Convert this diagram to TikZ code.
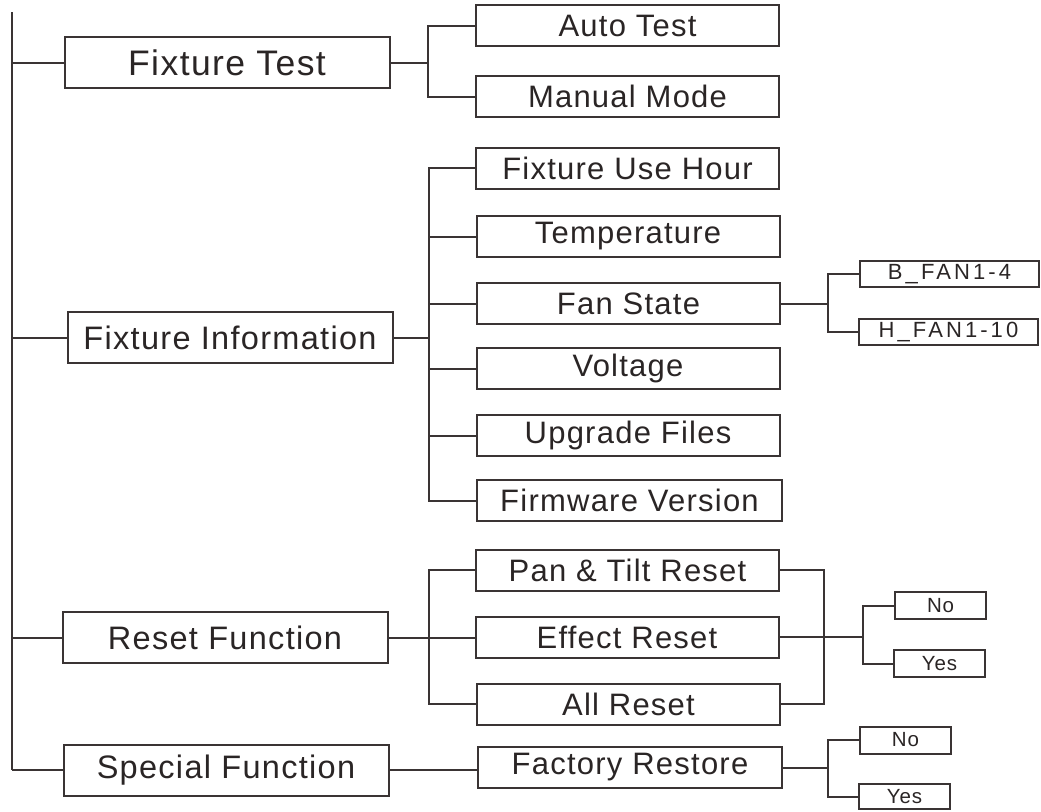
\documentclass[tikz,border=0pt]{standalone}
\usepackage{fontspec}
\setmainfont{Liberation Sans}[LetterSpace=4]
\newfontfamily\fanfont{Liberation Sans}[LetterSpace=14]
\definecolor{ln}{RGB}{58,52,52}
\definecolor{tx}{RGB}{42,37,37}
\begin{document}
\begin{tikzpicture}[x=1pt,y=-1pt,
  conn/.style={line width=2pt,draw=ln},
  box/.style={draw=ln,line width=2pt,inner sep=0pt,text=tx,anchor=center},
  lvlone/.style={box,minimum width=325pt,minimum height=51pt,font=\fontsize{32.5}{36}\selectfont},
  lvltwo/.style={box,minimum width=303pt,minimum height=41pt,font=\fontsize{31}{34}\selectfont},
  fanbox/.style={box,minimum width=179pt,minimum height=26pt,font=\fanfont\fontsize{22}{24}\selectfont},
  ynbox/.style={box,minimum width=91pt,minimum height=27pt,font=\fontsize{20.5}{22}\selectfont}]
\useasboundingbox (0,0) rectangle (1041,811);
% level 1
\node[lvlone,font=\fontsize{35.5}{38}\selectfont] (ft) at (227,62.5) {Fixture Test};
\node[lvlone] (fi) at (230,337.5) {Fixture Information};
\node[lvlone] (rf) at (225,637.5) {Reset Function};
\node[lvlone] (sf) at (226,770) {Special Function};
% level 2
\node[lvltwo] (at) at (627.5,25.5) {Auto Test};
\node[lvltwo] (mm) at (627.5,96.5) {Manual Mode};
\node[lvltwo] (fuh) at (627.5,168) {Fixture Use Hour};
\node[lvltwo] (tmp) at (628,236.5) {Temperature};
\node[lvltwo] (fs) at (628.5,303.5) {Fan State};
\node[lvltwo] (vol) at (628,368.5) {Voltage};
\node[lvltwo] (uf) at (628,435.5) {Upgrade Files};
\node[lvltwo,minimum width=305pt] (fv) at (629.5,500.5) {Firmware Version};
\node[lvltwo] (pt) at (627.5,570) {Pan \& Tilt Reset};
\node[lvltwo] (er) at (627,637) {Effect Reset};
\node[lvltwo] (ar) at (628.5,704) {All Reset};
\node[lvltwo,minimum width=304pt] (fr) at (630,767.5) {Factory Restore};
% level 3
\node[fanbox] (bf) at (949.5,274) {B\_FAN1-4};
\node[fanbox] (hf) at (948.5,332) {H\_FAN1-10};
\node[ynbox] (no1) at (940.5,605.5) {No};
\node[ynbox] (yes1) at (939.5,663.5) {Yes};
\node[ynbox] (no2) at (905.5,740) {No};
\node[ynbox,minimum height=25pt] (yes2) at (904.5,796.5) {Yes};
% buses
\coordinate (top) at (12,12);
\coordinate (ba) at (428,0);
\coordinate (bb) at (429,0);
\coordinate (bc) at (828,0);
\coordinate (bd) at (824,0);
\coordinate (be) at (863,0);
% main trunk
\draw[conn] (top) -- (top |- sf.west);
\foreach \n in {ft,fi,rf,sf} \draw[conn] (\n.west) -- (\n.west -| top);
% fixture test
\draw[conn] (ft.east) -- (ft.east -| ba);
\draw[conn] (at.west) -- (at.west -| ba) -- (mm.west -| ba) -- (mm.west);
% fixture information
\draw[conn] (fi.east) -- (fi.east -| bb);
\draw[conn] (fuh.west) -- (fuh.west -| bb) -- (fv.west -| bb) -- (fv.west);
\foreach \n in {tmp,fs,vol,uf} \draw[conn] (\n.west) -- (\n.west -| bb);
% fan state
\draw[conn] (fs.east) -- (fs.east -| bc);
\draw[conn] (bf.west) -- (bf.west -| bc) -- (hf.west -| bc) -- (hf.west);
% reset function
\draw[conn] (rf.east) -- (rf.east -| er.west);
\draw[conn] (pt.west) -- (pt.west -| bb) -- (ar.west -| bb) -- (ar.west);
\draw[conn] (pt.east) -- (pt.east -| bd) -- (ar.east -| bd) -- (ar.east);
\draw[conn] (er.east) -- (er.east -| be);
\draw[conn] (no1.west) -- (no1.west -| be) -- (yes1.west -| be) -- (yes1.west);
% special function
\draw[conn] (sf.east) -- (sf.east -| fr.west);
\draw[conn] (fr.east) -- (fr.east -| bc);
\draw[conn] (no2.west) -- (no2.west -| bc) -- (yes2.west -| bc) -- (yes2.west);
\end{tikzpicture}
\end{document}
